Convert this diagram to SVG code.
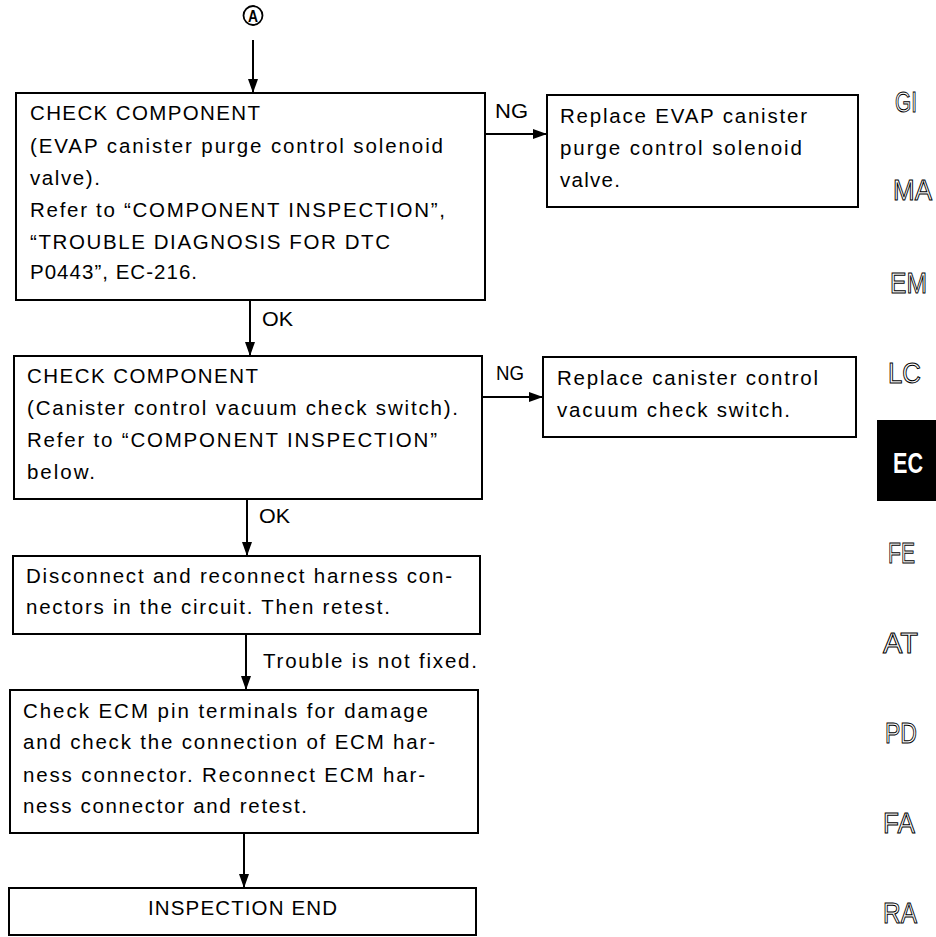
<svg xmlns="http://www.w3.org/2000/svg" width="936" height="937" viewBox="0 0 936 937">
  <style>
    .box { fill: #fff; stroke: #000; stroke-width: 2; }
    .t { font-family: "Liberation Sans", Arial, sans-serif; font-size: 20.5px; fill: #000; }
    .lbl { font-family: "Liberation Sans", Arial, sans-serif; font-size: 20.5px; fill: #000; }
    .edge { stroke: #000; stroke-width: 2; fill: none; marker-end: url(#arrow); }
    .tab { font-family: "Liberation Sans", Arial, sans-serif; font-size: 29px; fill: #fff; stroke: #000; stroke-width: 1; }
    .tabOn { font-family: "Liberation Sans", Arial, sans-serif; font-size: 29px; font-weight: bold; fill: #fff; }
  </style>
  <defs>
    <marker id="arrow" viewBox="0 0 14 10" refX="14" refY="5" markerWidth="14" markerHeight="10" markerUnits="userSpaceOnUse" orient="auto">
      <path d="M0,0 L14,5 L0,10 Z" fill="#000"/>
    </marker>
  </defs>
  <rect width="936" height="937" fill="#fff"/>

  <!-- entry connector symbol -->
  <g id="entry">
    <circle cx="253" cy="15.5" r="9.5" fill="#fff" stroke="#000" stroke-width="1.8"/>
    <text x="253" y="21.5" text-anchor="middle" font-family="Liberation Sans, Arial, sans-serif" font-size="16" font-weight="bold" textLength="10" lengthAdjust="spacingAndGlyphs">A</text>
  </g>

  <!-- connectors -->
  <g id="connectors">
    <line class="edge" x1="253" y1="40" x2="253" y2="93"/>
    <line class="edge" x1="485" y1="134" x2="547" y2="134"/>
    <line class="edge" x1="250" y1="300" x2="250" y2="356"/>
    <line class="edge" x1="482" y1="397" x2="543" y2="397"/>
    <line class="edge" x1="247" y1="499" x2="247" y2="556"/>
    <line class="edge" x1="246" y1="634" x2="246" y2="690"/>
    <line class="edge" x1="244" y1="833" x2="244" y2="888"/>
    <text class="lbl" x="495" y="118" textLength="33" lengthAdjust="spacingAndGlyphs">NG</text>
    <text class="lbl" x="262" y="326" textLength="31" lengthAdjust="spacingAndGlyphs">OK</text>
    <text class="lbl" x="496" y="380" textLength="28" lengthAdjust="spacingAndGlyphs">NG</text>
    <text class="lbl" x="259" y="523" textLength="31" lengthAdjust="spacingAndGlyphs">OK</text>
    <text class="lbl" x="263" y="668" textLength="214" lengthAdjust="spacing">Trouble is not fixed.</text>
  </g>

  <g id="check-evap-valve">
    <rect class="box" x="16" y="93" width="469" height="207"/>
    <text class="t" x="30" y="120" textLength="230" lengthAdjust="spacing">CHECK COMPONENT</text>
    <text class="t" x="30" y="153" textLength="413" lengthAdjust="spacing">(EVAP canister purge control solenoid</text>
    <text class="t" x="30" y="185" textLength="70" lengthAdjust="spacing">valve).</text>
    <text class="t" x="30" y="217" textLength="415" lengthAdjust="spacing">Refer to “COMPONENT INSPECTION”,</text>
    <text class="t" x="30" y="249" textLength="360" lengthAdjust="spacing">“TROUBLE DIAGNOSIS FOR DTC</text>
    <text class="t" x="30" y="279" textLength="167" lengthAdjust="spacing">P0443”, EC-216.</text>
  </g>

  <g id="replace-evap-valve">
    <rect class="box" x="547" y="95" width="311" height="112"/>
    <text class="t" x="560" y="123" textLength="247" lengthAdjust="spacing">Replace EVAP canister</text>
    <text class="t" x="560" y="155" textLength="242" lengthAdjust="spacing">purge control solenoid</text>
    <text class="t" x="560" y="187" textLength="60" lengthAdjust="spacing">valve.</text>
  </g>

  <g id="check-vacuum-switch">
    <rect class="box" x="14" y="356" width="468" height="143"/>
    <text class="t" x="27" y="383" textLength="231" lengthAdjust="spacing">CHECK COMPONENT</text>
    <text class="t" x="27" y="415" textLength="431" lengthAdjust="spacing">(Canister control vacuum check switch).</text>
    <text class="t" x="27" y="447" textLength="410" lengthAdjust="spacing">Refer to “COMPONENT INSPECTION”</text>
    <text class="t" x="27" y="479" textLength="68" lengthAdjust="spacing">below.</text>
  </g>

  <g id="replace-vacuum-switch">
    <rect class="box" x="543" y="357" width="313" height="80"/>
    <text class="t" x="557" y="385" textLength="261" lengthAdjust="spacing">Replace canister control</text>
    <text class="t" x="557" y="417" textLength="233" lengthAdjust="spacing">vacuum check switch.</text>
  </g>

  <g id="reconnect-harness">
    <rect class="box" x="13" y="556" width="467" height="78"/>
    <text class="t" x="26" y="583" textLength="426" lengthAdjust="spacing">Disconnect and reconnect harness con-</text>
    <text class="t" x="26" y="614" textLength="364" lengthAdjust="spacing">nectors in the circuit. Then retest.</text>
  </g>

  <g id="check-ecm-pins">
    <rect class="box" x="10" y="690" width="468" height="143"/>
    <text class="t" x="23" y="718" textLength="405" lengthAdjust="spacing">Check ECM pin terminals for damage</text>
    <text class="t" x="23" y="749" textLength="412" lengthAdjust="spacing">and check the connection of ECM har-</text>
    <text class="t" x="23" y="782" textLength="402" lengthAdjust="spacing">ness connector. Reconnect ECM har-</text>
    <text class="t" x="23" y="813" textLength="284" lengthAdjust="spacing">ness connector and retest.</text>
  </g>

  <g id="inspection-end">
    <rect class="box" x="9" y="888" width="467" height="47"/>
    <text class="t" x="148" y="915" textLength="189" lengthAdjust="spacing">INSPECTION END</text>
  </g>

  <!-- section index tabs -->
  <g id="section-tabs">
    <text class="tab" x="895" y="112" textLength="22" lengthAdjust="spacingAndGlyphs">GI</text>
    <text class="tab" x="893" y="200" textLength="39" lengthAdjust="spacingAndGlyphs">MA</text>
    <text class="tab" x="890" y="293" textLength="37" lengthAdjust="spacingAndGlyphs">EM</text>
    <text class="tab" x="888" y="383" textLength="33" lengthAdjust="spacingAndGlyphs">LC</text>
    <rect x="877" y="420" width="59" height="81" fill="#000"/>
    <text class="tabOn" x="893" y="473" textLength="30" lengthAdjust="spacingAndGlyphs">EC</text>
    <text class="tab" x="888" y="563" textLength="27" lengthAdjust="spacingAndGlyphs">FE</text>
    <text class="tab" x="883" y="653" textLength="35" lengthAdjust="spacingAndGlyphs">AT</text>
    <text class="tab" x="885" y="743" textLength="32" lengthAdjust="spacingAndGlyphs">PD</text>
    <text class="tab" x="883" y="833" textLength="32" lengthAdjust="spacingAndGlyphs">FA</text>
    <text class="tab" x="883" y="923" textLength="34" lengthAdjust="spacingAndGlyphs">RA</text>
  </g>
</svg>
